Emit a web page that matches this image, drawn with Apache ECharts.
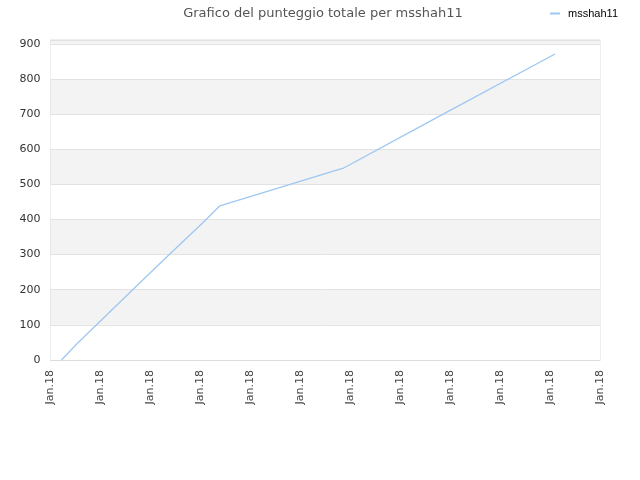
<!DOCTYPE html>
<html>
<head>
<meta charset="utf-8">
<script src="https://cdn.jsdelivr.net/npm/echarts@6/dist/echarts.min.js"></script>
<style>
  html, body { margin: 0; padding: 0; background: #fff; }
  #chart { width: 640px; height: 480px; }
</style>
</head>
<body>
<div id="chart"></div>
<script>
// punti della serie: posizione sull'asse x (in intervalli di tick) e punteggio
var xPos = [0.22, 0.52, 1.16, 1.79, 2.42, 3.06, 3.39, 5.86, 7.86, 10.1];
var scores = [0, 45, 133, 220, 306, 392, 439, 546, 700, 871];
var tickLabel = 'Jan.18';
var seriesName = 'msshah11';

var myChart = echarts.init(document.getElementById('chart'));

var points = xPos.map(function (x, i) { return [x, scores[i]]; });

var option = {
  backgroundColor: '#fff',
  animation: false,
  title: {
    text: 'Grafico del punteggio totale per msshah11',
    left: 318,
    textAlign: 'center',
    top: 2,
    textStyle: { color: '#555', fontSize: 13, fontWeight: 'normal', fontFamily: 'DejaVu Sans' }
  },
  legend: {
    right: 17,
    top: 3,
    itemWidth: 10,
    itemHeight: 2,
    itemGap: 5,
    icon: 'rect',
    textStyle: { color: '#000', fontSize: 11, fontFamily: 'Liberation Sans', padding: [0, 0, 0, 3] },
    data: [seriesName]
  },
  grid: {
    left: 50.5,
    right: 40,
    top: 40,
    bottom: 120,
    show: true,
    borderColor: '#ddd',
    borderWidth: 1
  },
  xAxis: {
    type: 'value',
    min: 0,
    max: 11,
    interval: 1,
    axisLine: { show: true, lineStyle: { color: '#ddd' } },
    axisTick: { show: false },
    splitLine: { show: false },
    axisLabel: {
      rotate: 90,
      color: '#444',
      fontSize: 11,
      fontFamily: 'DejaVu Sans',
      margin: 10,
      formatter: function () { return tickLabel; }
    }
  },
  yAxis: {
    type: 'value',
    min: 0,
    max: 911,
    interval: 100,
    axisLine: { show: false },
    axisTick: { show: false },
    axisLabel: { color: '#333', fontSize: 11, fontFamily: 'DejaVu Sans', margin: 10, showMaxLabel: false },
    splitLine: { show: true, lineStyle: { color: '#e2e2e2' } },
    splitArea: { show: true, areaStyle: { color: ['#ffffff', '#f3f3f3'] } }
  },
  series: [{
    name: seriesName,
    type: 'line',
    data: points,
    showSymbol: false,
    smooth: false,
    itemStyle: { color: '#9ec7f2' },
    lineStyle: { color: '#9ec7f2', width: 1.3 }
  }]
};
myChart.setOption(option);
</script>
</body>
</html>
